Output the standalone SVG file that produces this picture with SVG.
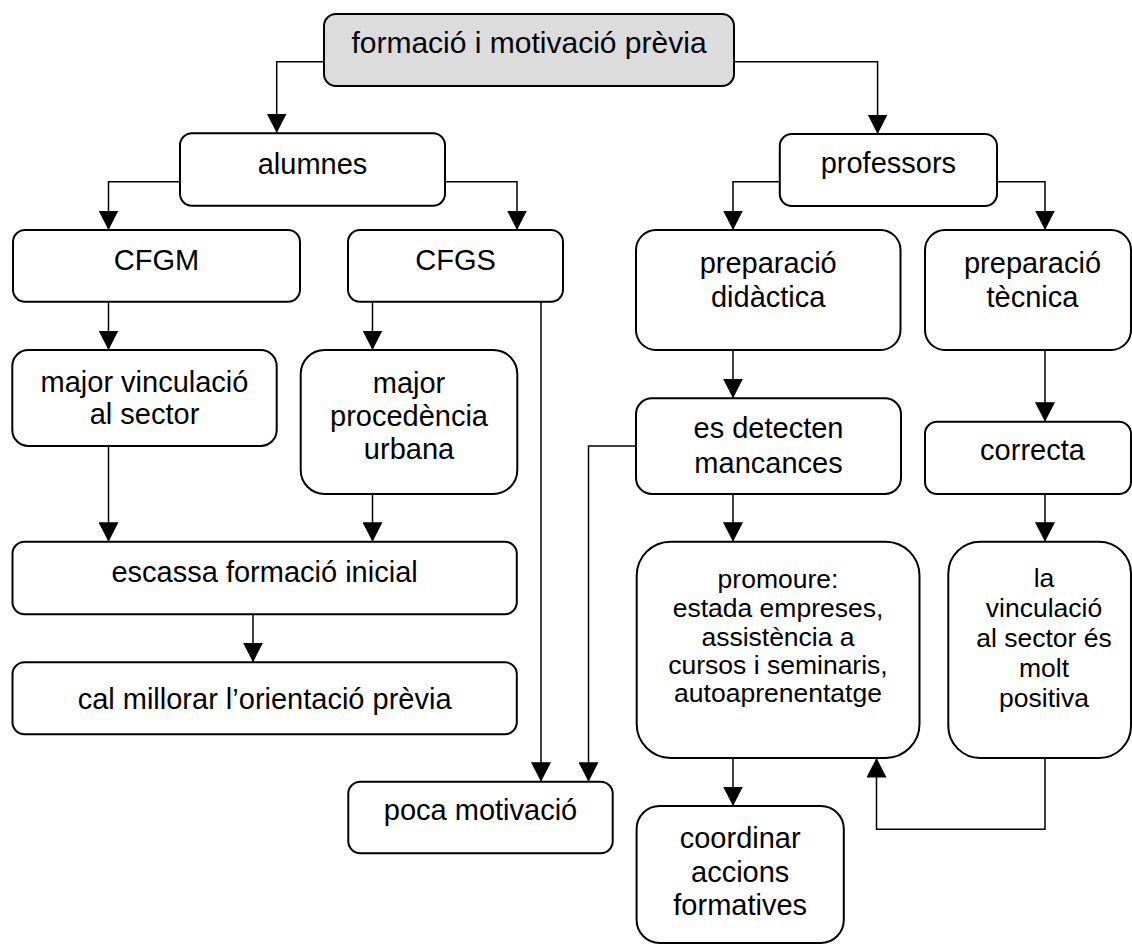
<svg xmlns="http://www.w3.org/2000/svg" width="1132" height="947" viewBox="0 0 1132 947">
<defs>
<marker id="ah" markerUnits="userSpaceOnUse" markerWidth="20" markerHeight="20" refX="19.5" refY="10" orient="auto">
<path d="M0,0 L19.5,10 L0,20 z" fill="#000"/>
</marker>
<style>
.b{fill:#fff;stroke:#000;stroke-width:2}
.g{fill:#dcdcdc;stroke:#000;stroke-width:2}
.t{font-family:"Liberation Sans",Arial,sans-serif;font-size:29px;fill:#000;text-anchor:middle}
.s{font-size:26.5px}
.c{fill:none;stroke:#000;stroke-width:1.5;marker-end:url(#ah)}
.l{fill:none;stroke:#000;stroke-width:1.5}
</style>
</defs>
<rect width="1132" height="947" fill="#fff"/>
<g id="connectors">
<path class="c" d="M324,61.7 H276.7 V133"/>
<path class="c" d="M734,61.7 H877.6 V134"/>
<path class="c" d="M180,181.7 H108.5 V230"/>
<path class="c" d="M445,181.7 H517 V230"/>
<path class="c" d="M779.8,181.7 H733 V230"/>
<path class="c" d="M997,181.7 H1045 V230"/>
<path class="c" d="M108.5,301.7 V350"/>
<path class="c" d="M372.5,301.7 V350"/>
<path class="c" d="M541,301.7 V781.7"/>
<path class="c" d="M108.5,446 V541.7"/>
<path class="c" d="M372.5,494 V541.7"/>
<path class="c" d="M253,614.3 V662.3"/>
<path class="c" d="M733,350 V398.3"/>
<path class="c" d="M636,446 H588.5 V781.7"/>
<path class="c" d="M733,494 V541.7"/>
<path class="c" d="M1045,350 V421.7"/>
<path class="c" d="M1045,494 V541.7"/>
<path class="c" d="M733,758 V806"/>
<path class="c" d="M1045,758 V829.3 H876.5 V758"/>
</g>
<g id="n-top"><rect class="g" x="324" y="14" width="410" height="72" rx="12"/><text class="t" x="529" y="53.3" style="font-size:30px">formació i motivació prèvia</text></g>
<g id="n-alumnes"><rect class="b" x="180" y="133.3" width="265" height="72.4" rx="12"/><text class="t" x="312.5" y="174">alumnes</text></g>
<g id="n-professors"><rect class="b" x="779.8" y="134" width="217.2" height="72" rx="12"/><text class="t" x="888.4" y="173.3">professors</text></g>
<g id="n-cfgm"><rect class="b" x="13" y="230" width="287" height="71.7" rx="12"/><text class="t" x="156.5" y="270">CFGM</text></g>
<g id="n-cfgs"><rect class="b" x="348" y="230" width="215" height="71.7" rx="12"/><text class="t" x="455.5" y="270">CFGS</text></g>
<g id="n-prepdid"><rect class="b" x="636" y="230" width="264.5" height="120" rx="20"/><text class="t" x="768.2" y="273">preparació</text><text class="t" x="768.2" y="306.5">didàctica</text></g>
<g id="n-preptec"><rect class="b" x="925" y="230" width="206" height="120" rx="20"/><text class="t" x="1032.5" y="273">preparació</text><text class="t" x="1032.5" y="306.5">tècnica</text></g>
<g id="n-majorvinc"><rect class="b" x="12.3" y="350" width="264.4" height="96" rx="16"/><text class="t" x="144.5" y="392">major vinculació</text><text class="t" x="144.5" y="424">al sector</text></g>
<g id="n-majorproc"><rect class="b" x="300.7" y="350" width="216.6" height="144" rx="24"/><text class="t" x="409" y="392.5">major</text><text class="t" x="409" y="426">procedència</text><text class="t" x="409" y="459.3">urbana</text></g>
<g id="n-detecten"><rect class="b" x="636" y="398.3" width="265" height="95.7" rx="16"/><text class="t" x="768.5" y="438.3">es detecten</text><text class="t" x="768.5" y="472.7">mancances</text></g>
<g id="n-correcta"><rect class="b" x="925" y="421.7" width="206" height="72.3" rx="12"/><text class="t" x="1032.5" y="460">correcta</text></g>
<g id="n-escassa"><rect class="b" x="12.5" y="541.7" width="504.3" height="72.6" rx="12"/><text class="t" x="264.6" y="581.7">escassa formació inicial</text></g>
<g id="n-millorar"><rect class="b" x="12.5" y="662.3" width="504.3" height="72" rx="12"/><text class="t" x="264.6" y="709">cal millorar l’orientació prèvia</text></g>
<g id="n-promoure"><rect class="b" x="636.7" y="541.7" width="282.8" height="216.3" rx="34"/>
<text class="t s" x="778" y="588.3">promoure:</text>
<text class="t s" x="778" y="616.7">estada empreses,</text>
<text class="t s" x="778" y="645.5">assistència a</text>
<text class="t s" x="778" y="673.5">cursos i seminaris,</text>
<text class="t s" x="778" y="701.7">autoaprenentatge</text></g>
<g id="n-vinculacio"><rect class="b" x="948.3" y="541.7" width="182.7" height="216.3" rx="32"/>
<text class="t s" x="1044" y="586.7">la</text>
<text class="t s" x="1044" y="616.5">vinculació</text>
<text class="t s" x="1044" y="646.5">al sector és</text>
<text class="t s" x="1044" y="676.5">molt</text>
<text class="t s" x="1044" y="706.7">positiva</text></g>
<g id="n-poca"><rect class="b" x="348.3" y="781.7" width="264.4" height="71.6" rx="12"/><text class="t" x="480.5" y="820">poca motivació</text></g>
<g id="n-coordinar"><rect class="b" x="636.6" y="806" width="207.2" height="137" rx="23"/><text class="t" x="740.2" y="848">coordinar</text><text class="t" x="740.2" y="881.7">accions</text><text class="t" x="740.2" y="915">formatives</text></g>
</svg>
